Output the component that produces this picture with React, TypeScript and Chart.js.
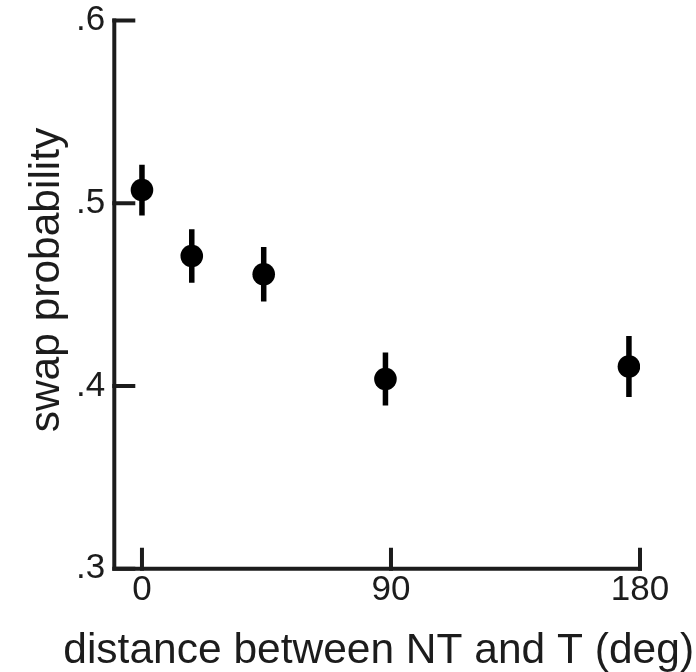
import React, { useEffect, useRef } from "react";
import { Chart, registerables } from "chart.js";

Chart.register(...registerables);

const DISTANCES = [0, 18, 44, 88, 176];
const SWAP_PROB = [0.5072, 0.4711, 0.4611, 0.4038, 0.4106];
const SWAP_ERR = [0.0139, 0.0146, 0.0149, 0.0145, 0.0167];
const X_TICKS = [0, 90, 180];
const Y_TICKS = [0.3, 0.4, 0.5, 0.6];
const X_MIN = -10;
const X_MAX = 180;
const Y_MIN = 0.3;
const Y_MAX = 0.6;
const X_TITLE = "distance between NT and T (deg)";
const Y_TITLE = "swap probability";

const INK = "#1c1c1c";
const FONT = "'Liberation Sans', Arial, sans-serif";

const framePlugin = {
  id: "frame",
  beforeDatasetsDraw(chart: any) {
    const { ctx } = chart;
    const xs = chart.scales.x;
    const ys = chart.scales.y;
    const left = xs.getPixelForValue(X_MIN);
    const right = xs.getPixelForValue(X_TICKS[X_TICKS.length - 1]);
    const top = ys.getPixelForValue(Y_MAX);
    const bottom = ys.getPixelForValue(Y_MIN);
    const tickLen = 19;
    ctx.save();
    ctx.strokeStyle = INK;
    ctx.lineWidth = 4;
    ctx.lineCap = "square";
    ctx.lineJoin = "miter";
    ctx.beginPath();
    ctx.moveTo(left, top);
    ctx.lineTo(left, bottom);
    ctx.lineTo(right, bottom);
    ctx.stroke();
    ctx.beginPath();
    Y_TICKS.forEach((v) => {
      const py = ys.getPixelForValue(v);
      ctx.moveTo(left, py);
      ctx.lineTo(left + tickLen, py);
    });
    X_TICKS.forEach((v) => {
      const px = xs.getPixelForValue(v);
      ctx.moveTo(px, bottom);
      ctx.lineTo(px, bottom - tickLen);
    });
    ctx.stroke();
    // error bars
    ctx.strokeStyle = "#000";
    ctx.lineWidth = 5.5;
    ctx.lineCap = "butt";
    ctx.beginPath();
    DISTANCES.forEach((d, i) => {
      const px = xs.getPixelForValue(d);
      ctx.moveTo(px, ys.getPixelForValue(SWAP_PROB[i] + SWAP_ERR[i]));
      ctx.lineTo(px, ys.getPixelForValue(SWAP_PROB[i] - SWAP_ERR[i]));
    });
    ctx.stroke();
    ctx.restore();
  },
  afterDraw(chart: any) {
    const { ctx, chartArea } = chart;
    ctx.save();
    ctx.fillStyle = INK;
    ctx.font = `42.5px ${FONT}`;
    ctx.textAlign = "center";
    ctx.textBaseline = "alphabetic";
    ctx.fillText(X_TITLE, (chartArea.left + chartArea.right) / 2 + 1.5, 663);
    ctx.translate(47, 280);
    ctx.rotate(-Math.PI / 2);
    ctx.textBaseline = "middle";
    ctx.fillText(Y_TITLE, 0, 0);
    ctx.restore();
  },
};

export default function App() {
  const ref = useRef<HTMLCanvasElement | null>(null);
  useEffect(() => {
    document.body.style.margin = "0";
    const canvas = ref.current;
    if (!canvas) return;
    const chart = new Chart(canvas, {
      type: "scatter",
      data: {
        datasets: [
          {
            data: DISTANCES.map((d, i) => ({ x: d, y: SWAP_PROB[i] })),
            backgroundColor: "#000",
            borderColor: "#000",
            pointRadius: 11.3,
            pointBorderWidth: 0,
            pointHoverRadius: 11.3,
          },
        ],
      },
      options: {
        animation: false,
        responsive: false,
        devicePixelRatio: 1,
        layout: { padding: { left: 0, top: 20.5, right: 56, bottom: 0 } },
        plugins: { legend: { display: false }, tooltip: { enabled: false } },
        scales: {
          x: {
            type: "linear",
            min: X_MIN,
            max: X_MAX,
            grid: { display: false, drawTicks: false },
            border: { display: false },
            afterBuildTicks: (s: any) => {
              s.ticks = X_TICKS.map((v) => ({ value: v }));
            },
            afterFit: (s: any) => {
              s.height = 103.3;
            },
            ticks: {
              color: INK,
              font: { family: FONT, size: 35, lineHeight: 1 },
              padding: 4.6,
              maxRotation: 0,
              autoSkip: false,
              callback: (v: any) => String(v),
            },
            title: { display: false },
          },
          y: {
            type: "linear",
            min: Y_MIN,
            max: Y_MAX,
            grid: { display: false, drawTicks: false },
            border: { display: false },
            afterBuildTicks: (s: any) => {
              s.ticks = Y_TICKS.map((v) => ({ value: v }));
            },
            afterFit: (s: any) => {
              s.width = 114.3;
            },
            ticks: {
              color: INK,
              font: { family: FONT, size: 35, lineHeight: 0.5 },
              padding: 9,
              autoSkip: false,
              callback: (v: any) => Number(v).toFixed(1).replace(/^0/, ""),
            },
            title: { display: false },
          },
        },
      },
      plugins: [framePlugin],
    });
    return () => chart.destroy();
  }, []);
  return (
    <div style={{ width: 696, height: 672, background: "#fff" }}>
      <canvas ref={ref} width={696} height={672} style={{ display: "block" }} />
    </div>
  );
}
